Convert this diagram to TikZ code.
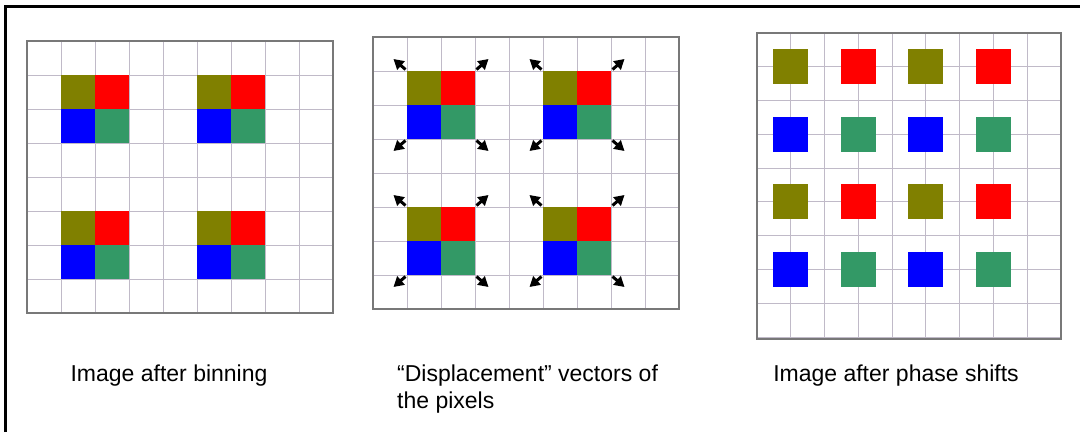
\documentclass[tikz,border=0pt]{standalone}
\usepackage{fontspec}
\setmainfont{Liberation Sans}
\usetikzlibrary{arrows.meta}
\definecolor{olivec}{RGB}{128,128,0}
\definecolor{redc}{RGB}{255,0,0}
\definecolor{bluec}{RGB}{0,0,255}
\definecolor{greenc}{RGB}{51,153,102}
\definecolor{gridc}{RGB}{192,186,200}
\definecolor{framec}{RGB}{120,120,120}
\begin{document}
\begin{tikzpicture}[x=1pt,y=-1pt,
  gridline/.style={draw=gridc,line width=1pt},
  panelframe/.style={draw=framec,line width=2pt},
  outerframe/.style={draw=black,line width=3pt},
  vec/.style={draw=black,line width=3pt,-{Triangle[length=10pt,width=11pt]}},
  captext/.style={font=\fontsize{23}{27.3}\selectfont,inner sep=0pt,text=black}]
\useasboundingbox (0,0) rectangle (1080,432);
\fill[white] (0,0) rectangle (1080,432);
% outer frame
\draw[outerframe] (5,432) -- (5,6) -- (1080,6);

% ---------- Panel 1: image after binning ----------
\foreach \i in {0,...,9} \draw[gridline] ({27+34*\i},41) -- ({27+34*\i},313);
\foreach \j in {0,...,8} \draw[gridline] (27,{41+34*\j}) -- (333,{41+34*\j});
\foreach \bx/\by in {61/75,197/75,61/211,197/211}{
  \fill[olivec] (\bx,\by) rectangle ++(34,34);
  \fill[redc] ({\bx+34},\by) rectangle ++(34,34);
  \fill[bluec] (\bx,{\by+34}) rectangle ++(34,34);
  \fill[greenc] ({\bx+34},{\by+34}) rectangle ++(34,34);
}
\draw[panelframe] (27,41) rectangle (333,313);

% ---------- Panel 2: displacement vectors ----------
\foreach \i in {0,...,9} \draw[gridline] ({373+34*\i},37) -- ({373+34*\i},309);
\foreach \j in {0,...,8} \draw[gridline] (373,{37+34*\j}) -- (679,{37+34*\j});
\foreach \bx/\by in {407/71,543/71,407/207,543/207}{
  \fill[olivec] (\bx,\by) rectangle ++(34,34);
  \fill[redc] ({\bx+34},\by) rectangle ++(34,34);
  \fill[bluec] (\bx,{\by+34}) rectangle ++(34,34);
  \fill[greenc] ({\bx+34},{\by+34}) rectangle ++(34,34);
  \coordinate (tl) at ({\bx-1.5},{\by-1.5});
  \coordinate (tlt) at ({\bx-13.5},{\by-12});
  \coordinate (tr) at ({\bx+69.5},{\by-1.5});
  \coordinate (trt) at ({\bx+81.5},{\by-12});
  \coordinate (bl) at ({\bx-1.5},{\by+69.5});
  \coordinate (blt) at ({\bx-13.5},{\by+80});
  \coordinate (br) at ({\bx+69.5},{\by+69.5});
  \coordinate (brt) at ({\bx+81.5},{\by+80});
  \draw[vec] (tl) -- (tlt);
  \draw[vec] (tr) -- (trt);
  \draw[vec] (bl) -- (blt);
  \draw[vec] (br) -- (brt);
}
\draw[panelframe] (373,37) rectangle (679,309);

% ---------- Panel 3: image after phase shifts ----------
\def\cs{33.7778}
\foreach \i in {0,...,9} \draw[gridline] ({757+\cs*\i},33) -- ({757+\cs*\i},339);
\foreach \j in {0,...,9} \draw[gridline] (757,{33+\cs*\j}) -- (1061,{33+\cs*\j});
\foreach \r/\ca/\cb in {1/olivec/redc,3/bluec/greenc,5/olivec/redc,7/bluec/greenc}{
  \foreach \c in {1,5}{
    \fill[\ca] ({757+\cs*\c-17.5},{33+\cs*\r-17.5}) rectangle ++(35,35);
  }
  \foreach \c in {3,7}{
    \fill[\cb] ({757+\cs*\c-17.5},{33+\cs*\r-17.5}) rectangle ++(35,35);
  }
}
\draw[panelframe] (757,33) rectangle (1061,339);

% ---------- captions ----------
\node[captext,anchor=base] (cap1) at (169,381.5) {Image after binning};
\node[captext,anchor=north west,align=left] (cap2) at (397,364.8) {“Displacement” vectors of\\the pixels};
\node[captext,anchor=base] (cap3) at (896,381.5) {Image after phase shifts};
\end{tikzpicture}
\end{document}
